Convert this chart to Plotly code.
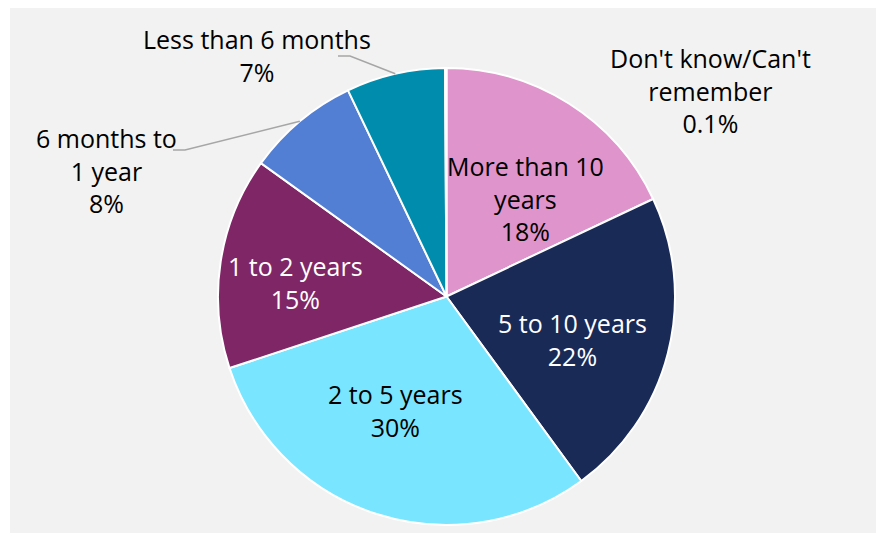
import math
import plotly.graph_objects as go

W, H = 884, 533

# ---- data ----
categories = ["More than 10 years", "5 to 10 years", "2 to 5 years", "1 to 2 years",
              "6 months to 1 year", "Less than 6 months", "Don't know/Can't remember"]
values = [18, 22, 30, 15, 8, 7, 0.1]
label_texts = ["More than 10<br>years<br>18%", "5 to 10 years<br>22%", "2 to 5 years<br>30%",
               "1 to 2 years<br>15%", "6 months to<br>1 year<br>8%", "Less than 6 months<br>7%",
               "Don't know/Can't<br>remember<br>0.1%"]

# ---- style ----
colors = ["#DF94CB", "#1A2A57", "#7AE5FF", "#7F2667", "#527FD4", "#008DAD", "#C0C0C0"]
label_colors = ["#000000", "#FFFFFF", "#000000", "#FFFFFF", "#000000", "#000000", "#000000"]
# label centres in page pixels (x, y)
label_pos = [(525, 198), (572, 339), (395, 410), (295, 282), (106, 170), (257, 55), (710, 91)]
FONT = "Open Sans"
FS = 25

# page offset of the plot div (default body margin)
OX, OY = 8, 8
cx, cy, R = 446.5, 296.5, 228.5

def px(x):
    return (x - OX) / W

def py(y):
    return 1 - (y - OY) / H

fig = go.Figure(go.Pie(
    labels=categories, values=values, sort=False, direction="clockwise", rotation=0,
    marker=dict(colors=colors, line=dict(color="#FFFFFF", width=2)),
    textinfo="none", hoverinfo="label+percent", showlegend=False,
    domain=dict(x=[px(cx - R), px(cx + R)], y=[py(cy + R), py(cy - R)]),
))

annotations = []
for t, c, (x, y) in zip(label_texts, label_colors, label_pos):
    annotations.append(dict(x=px(x), y=py(y), xref="paper", yref="paper", text=t,
                            showarrow=False, xanchor="center", yanchor="middle",
                            font=dict(family=FONT, size=FS, color=c), align="center"))

# leader lines: to the slice mid-angle on the rim
total = sum(values)
cum = []
acc = 0
for v in values:
    cum.append(acc + v / 2)
    acc += v

def rim(i):
    ang = cum[i] / total * 2 * math.pi
    return cx + R * math.sin(ang), cy - R * math.cos(ang)

shapes = [dict(type="rect", xref="paper", yref="paper", x0=px(10), x1=1, y0=0, y1=1,
               fillcolor="#F2F2F2", line=dict(width=0), layer="below")]
leaders = [(5, (338, 56), (350, 56)), (4, (173, 150), (185, 150))]
for i, p0, p1 in leaders:
    ex, ey = rim(i)
    path = f"M {px(p0[0])},{py(p0[1])} L {px(p1[0])},{py(p1[1])} L {px(ex)},{py(ey)}"
    shapes.append(dict(type="path", xref="paper", yref="paper", path=path,
                       line=dict(color="#A6A6A6", width=1.5)))

fig.update_layout(width=W, height=H, margin=dict(l=0, r=0, t=0, b=0),
                  paper_bgcolor="#FFFFFF", annotations=annotations, shapes=shapes)
fig.write_html("out.html")
